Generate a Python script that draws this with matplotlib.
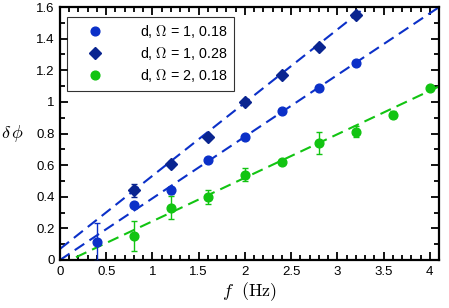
import numpy as np
import matplotlib
matplotlib.use("Agg")
import matplotlib.pyplot as plt
from matplotlib.ticker import MultipleLocator

# ------------------------------------------------------------------
# data
# ------------------------------------------------------------------
f_circ = [0.4, 0.8, 1.2, 1.6, 2.0, 2.4, 2.8, 3.2]
dphi_circ = [0.116, 0.35, 0.44, 0.635, 0.775, 0.94, 1.086, 1.245]
err_circ = [0.12, 0.0, 0.02, 0.0, 0.0, 0.0, 0.0, 0.0]

f_diam = [0.8, 1.2, 1.6, 2.0, 2.4, 2.8, 3.2]
dphi_diam = [0.44, 0.605, 0.78, 1.0, 1.17, 1.35, 1.55]
err_diam = [0.04, 0.02, 0.0, 0.0, 0.0, 0.0, 0.0]

f_green = [0.8, 1.2, 1.6, 2.0, 2.4, 2.8, 3.2, 3.6, 4.0]
dphi_green = [0.152, 0.332, 0.40, 0.54, 0.618, 0.74, 0.81, 0.92, 1.086]
err_green = [0.095, 0.07, 0.045, 0.04, 0.0, 0.07, 0.035, 0.02, 0.0]

# linear fits (slope, intercept)
fit_circ = (0.39, 0.0)
fit_diam = (0.4625, 0.07)
fit_green = (0.275, -0.03)

labels = [r"d, $\Omega$ = 1, 0.18", r"d, $\Omega$ = 1, 0.28", r"d, $\Omega$ = 2, 0.18"]

c_circ = "#0b30c8"
c_diam = "#0a2590"
c_green = "#12c412"

plt.rcParams["font.family"] = ["Liberation Sans", "DejaVu Sans"]
plt.rcParams["mathtext.fontset"] = "cm"

fig = plt.figure(figsize=(4.49, 3.08), dpi=100)
ax = fig.add_axes([60 / 449, 48 / 308, 379 / 449, 253 / 308])

xx = np.array([0.0, 4.1])
for (m, b), col in [(fit_circ, c_circ), (fit_diam, c_circ), (fit_green, c_green)]:
    ax.plot(xx, m * xx + b, color=col, lw=1.5, dashes=(5.5, 3), zorder=2)

kw = dict(ls="none", capsize=2.5, elinewidth=1.0, capthick=1.0, zorder=3, clip_on=True)
ax.errorbar(f_circ, dphi_circ, yerr=err_circ, fmt="o", ms=6.3, color=c_circ,
            label=labels[0], **kw)
ax.errorbar(f_diam, dphi_diam, yerr=err_diam, fmt="D", ms=6, color=c_diam,
            label=labels[1], **kw)
ax.errorbar(f_green, dphi_green, yerr=err_green, fmt="o", ms=6.3, color=c_green,
            label=labels[2], **kw)

ax.set_xlim(0, 4.1)
ax.set_ylim(0, 1.6)
ax.xaxis.set_minor_locator(MultipleLocator(0.1))
ax.yaxis.set_minor_locator(MultipleLocator(0.1))
ax.set_xticks([0, 0.5, 1, 1.5, 2, 2.5, 3, 3.5, 4])
ax.set_xticklabels(["0", "0.5", "1", "1.5", "2", "2.5", "3", "3.5", "4"])
ax.set_yticks([0, 0.2, 0.4, 0.6, 0.8, 1.0, 1.2, 1.4, 1.6])
ax.set_yticklabels(["0", "0.2", "0.4", "0.6", "0.8", "1", "1.2", "1.4", "1.6"])
ax.tick_params(which="both", direction="in", top=True, right=True, labelsize=9.5,
               width=1.3, pad=4)
ax.tick_params(which="major", length=6)
ax.tick_params(which="minor", length=3.5)
for s in ax.spines.values():
    s.set_linewidth(1.6)

ax.set_xlabel(r"$f\ \ (\mathrm{Hz})$", fontsize=13, labelpad=2)
ax.set_ylabel(r"$\delta\,\phi$", fontsize=13, rotation=0, va="center")
ax.yaxis.set_label_coords(-0.125, 0.5)

handles, labs = ax.get_legend_handles_labels()
handles = [h[0] for h in handles]
leg = ax.legend(handles, labs, loc="upper left", bbox_to_anchor=(0.018, 0.962),
                fontsize=10.3, frameon=True, fancybox=False, borderpad=0.45,
                handlelength=3.0, handletextpad=1.7, labelspacing=0.35,
                borderaxespad=0, numpoints=1)
leg.get_frame().set_edgecolor("black")
leg.get_frame().set_linewidth(0.8)

fig.savefig("out.png", dpi=100)
